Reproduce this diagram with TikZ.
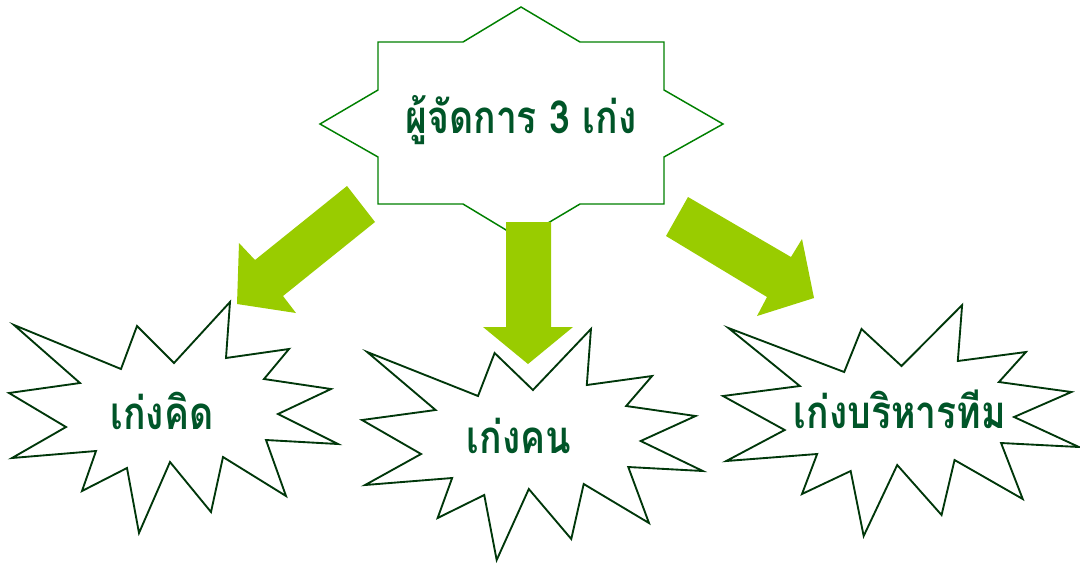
\documentclass[tikz,border=0pt]{standalone}
\usepackage{fontspec}
\newfontfamily\thaifont[Script=Thai]{Loma}
\definecolor{arrowgreen}{RGB}{153,204,0}
\definecolor{textgreen}{RGB}{0,85,40}
\definecolor{stargreen}{RGB}{0,128,0}
\definecolor{burstgreen}{RGB}{0,55,10}
\tikzset{
  sealshape/.style={draw=stargreen, fill=white, line width=1.1pt, line join=miter},
  burstshape/.style={draw=burstgreen, fill=white, line width=1.4pt, line join=miter},
  blockarrow/.style={fill=arrowgreen, draw=none},
  label/.style={text=textgreen, font=\thaifont\bfseries\fontsize{28}{32}\selectfont, inner sep=0pt, anchor=base}
}
\newcommand{\burstpath}{(5,23) -- (112,67) -- (128,24) -- (165,61) -- (221,0) -- (217,56) -- (280,47) -- (255,77) -- (322,87) -- (269,112) -- (329,142) -- (257,138) -- (277,194) -- (214,155) -- (202,210) -- (161,160) -- (130,231) -- (118,166) -- (73,189) -- (87,149) -- (3,156) -- (57,125) -- (0,91) -- (71,81) -- cycle}
\newcommand{\tall}[1]{\scalebox{1}[1.22]{#1}}
\begin{document}
\begin{tikzpicture}[x=0.75pt,y=-0.75pt]
\useasboundingbox (0,0) rectangle (1080,565);
% top seal
\draw[sealshape] (521,7) -- (580,42) -- (664,42) -- (664,90) -- (723,124) -- (664,157) -- (664,204) -- (580,204) -- (521,239) -- (463,204) -- (378,204) -- (378,157) -- (320,124) -- (378,90) -- (378,42) -- (463,42) -- cycle;
% starbursts
\begin{scope}[shift={(9,302)}]
  \draw[burstshape] \burstpath;
\end{scope}
\begin{scope}[shift={(362,329)}, xscale=1.036]
  \draw[burstshape] \burstpath;
\end{scope}
\begin{scope}[shift={(723,305)}, xscale=1.082]
  \draw[burstshape] \burstpath;
\end{scope}
% arrows
\fill[blockarrow] (347,186) -- (375,222) -- (283,296) -- (296,313) -- (237,304) -- (239,243) -- (255,260) -- cycle;
\fill[blockarrow] (506,222) -- (551,222) -- (551,327) -- (573,327) -- (528,364) -- (483,327) -- (506,327) -- cycle;
\fill[blockarrow] (688,197) -- (791,257) -- (802,239) -- (814,298) -- (757,316) -- (767,297) -- (666,236) -- cycle;
% labels
\node[label] (top) at (521,133) {\tall{ผู้จัดการ 3 เก่ง}};
\node[label] (think) at (162,429) {\tall{เก่งคิด}};
\node[label] (people) at (519,453) {\tall{เก่งคน}};
\node[label] (team) at (900,428) {\tall{เก่งบริหารทีม}};
\end{tikzpicture}
\end{document}
